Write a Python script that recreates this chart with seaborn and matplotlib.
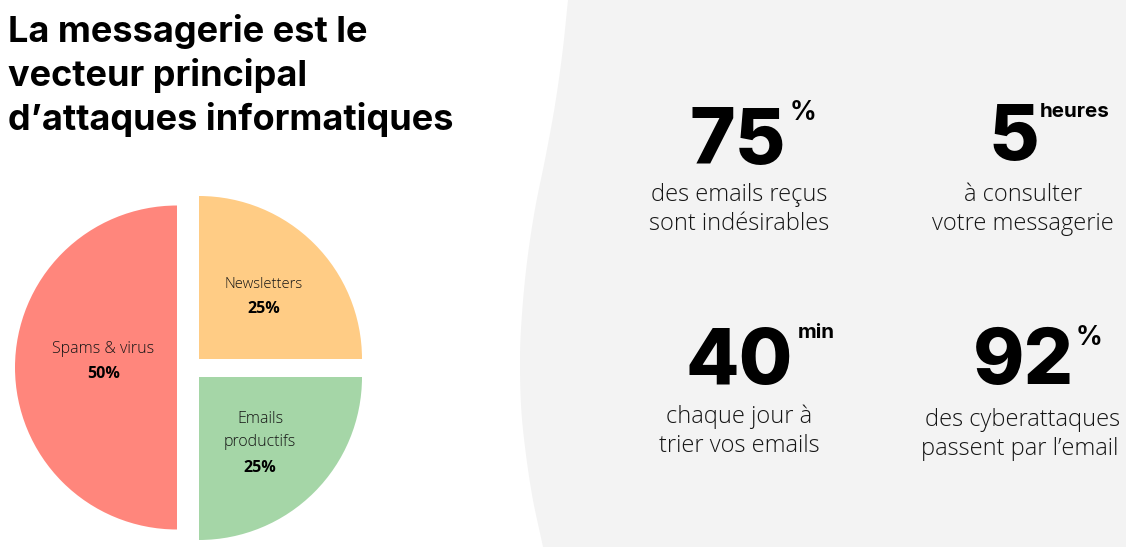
import matplotlib
matplotlib.use("Agg")
import matplotlib.pyplot as plt
from matplotlib.patches import Polygon
import numpy as np
import seaborn as sns

# Data
categories = ["Spams & virus", "Newsletters", "Emails\nproductifs"]
shares = [50, 25, 25]
share_labels = ["50%", "25%", "25%"]
slice_colors = ["#FF867C", "#FFCC85", "#A5D6A7"]

title_lines = ["La messagerie est le", "vecteur principal", "d’attaques informatiques"]
stat_values = ["75", "5", "40", "92"]
stat_units = ["%", "heures", "min", "%"]
stat_captions = ["des emails reçus\nsont indésirables",
                 "à consulter\nvotre messagerie",
                 "chaque jour à\ntrier vos emails",
                 "des cyberattaques\npassent par l’email"]

sns.set_theme(style="white")
plt.rcParams["font.family"] = ["Inter", "DejaVu Sans"]

W, H = 1126, 547
fig = plt.figure(figsize=(W / 100, H / 100), dpi=100, facecolor="white")
ax = fig.add_axes([0, 0, 1, 1])

def Y(py):
    return H - py

# Grey curved background panel (Catmull-Rom smoothed outline)
edge = np.array([(568, 0), (562.5, 52), (555, 105), (545.5, 157), (535, 209), (527, 262),
                 (522, 314), (520, 360), (522, 419), (531, 489), (543, 547)], float)
pts = np.vstack([2 * edge[0] - edge[1], edge, 2 * edge[-1] - edge[-2]])
curve = []
for i in range(1, len(pts) - 2):
    p0, p1, p2, p3 = pts[i - 1], pts[i], pts[i + 1], pts[i + 2]
    for t in np.linspace(0, 1, 16):
        curve.append(0.5 * (2 * p1 + (p2 - p0) * t + (2 * p0 - 5 * p1 + 4 * p2 - p3) * t ** 2
                            + (3 * p1 - p0 - 3 * p2 + p3) * t ** 3))
curve = np.array(curve)
outline = [(W, Y(0))] + [(x, Y(y)) for x, y in curve] + [(W, Y(547))]
ax.add_patch(Polygon(outline, closed=True, facecolor="#F3F3F3", edgecolor="none", zorder=0))

# Pie: clockwise from the bottom so the left half is the 50% slice
wedges, _ = ax.pie(shares, colors=slice_colors, startangle=270, counterclock=False,
                   radius=163, center=(188, Y(368)))
for w, c in zip(wedges, [(177, Y(367.5)), (199, Y(359)), (199, Y(377))]):
    w.set_center(c)
    w.set_edgecolor("none")
    w.set_zorder(2)
wedges[0].set_radius(162)

ax.set_xlim(0, W)
ax.set_ylim(0, H)
ax.set_aspect("equal")
ax.axis("off")

LIGHT = ["Open Sans", "DejaVu Sans"]
INK = "#151515"
label_pos = [(103.5, 349, 374, 11.5), (263.5, 284, 309, 10.6), (260, None, 468, 11.5)]
for cat, sh, (x, yc, yv, fs) in zip(categories, share_labels, label_pos):
    if yc is None:
        first, second = cat.split("\n")
        ax.text(x, Y(419), first, ha="center", va="center", fontsize=fs,
                family=LIGHT, weight=300, color=INK, zorder=3)
        ax.text(x, Y(442), second, ha="center", va="center", fontsize=fs,
                family=LIGHT, weight=300, color=INK, zorder=3)
    else:
        ax.text(x, Y(yc), cat, ha="center", va="center", fontsize=fs,
                family=LIGHT, weight=300, color=INK, zorder=3)
    ax.text(x, Y(yv), sh, ha="center", va="center", fontsize=11.5,
            family=LIGHT, weight="bold", color="black", zorder=3)

# Title
for line, py in zip(title_lines, [42, 86, 130]):
    ax.text(8, Y(py), line, ha="left", va="baseline", fontsize=26, weight="bold",
            color="black", zorder=3)

# Statistics
val_pos = [(738, 164), (1014, 160), (739, 384), (1023, 384)]
unit_pos = [(803, 113), (1075, 112), (816, 333), (1089, 338)]
unit_size = [19, 14.8, 14.8, 19]
cap_x = [(739, 739), (1023, 1023), (739, 739), (1023, 1020)]
cap_y = [(195, 224), (195, 224), (417, 446), (420, 449)]
for v, u, c, vp, up, us, cx, cy in zip(stat_values, stat_units, stat_captions,
                                       val_pos, unit_pos, unit_size, cap_x, cap_y):
    ax.text(vp[0], Y(vp[1]), v, ha="center", va="baseline", fontsize=56, weight=800,
            color="black", zorder=3)
    ax.text(up[0], Y(up[1]), u, ha="center", va="center", fontsize=us, weight="bold",
            color="black", zorder=3)
    for line, lx, ly in zip(c.split("\n"), cx, cy):
        ax.text(lx, Y(ly), line, ha="center", va="center", fontsize=17,
                family=LIGHT, weight=300, color=INK, zorder=3)

fig.savefig("out.png", dpi=100, facecolor="white")
